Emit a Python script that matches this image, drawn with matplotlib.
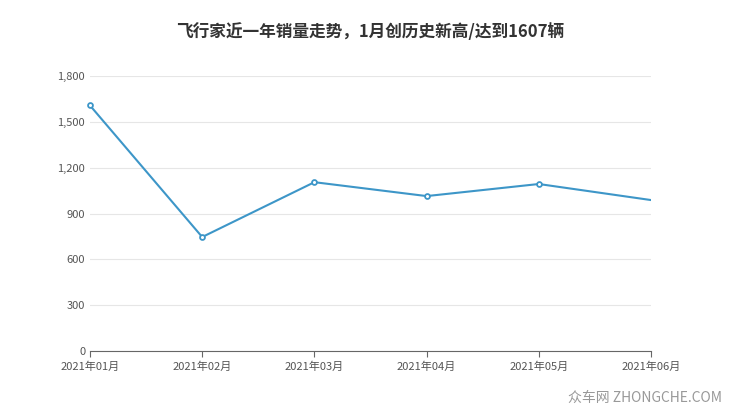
import matplotlib.pyplot as plt

plt.rcParams['font.family'] = ['Noto Sans CJK SC', 'DejaVu Sans']

months = ['2021年01月', '2021年02月', '2021年03月', '2021年04月', '2021年05月', '2021年06月']
sales = [1607, 746, 1105, 1014, 1093, 988]
yticks = [0, 300, 600, 900, 1200, 1500, 1800]

fig = plt.figure(figsize=(7.4, 4.17), dpi=100)
ax = fig.add_axes([90 / 740, 1 - 351 / 417, 561 / 740, 275 / 417])

x = list(range(len(months)))
ax.plot(x, sales, color='#3d96c8', lw=1.5)
ax.plot(x[:-1], sales[:-1], 'o', ms=3.5, mfc='white', mec='#3d96c8', mew=1.3, clip_on=False)

ax.set_xlim(0, len(months) - 1)
ax.set_ylim(0, 1800)
ax.set_yticks(yticks)
ax.set_yticklabels([f'{v:,}' for v in yticks])
ax.set_xticks(x)
ax.set_xticklabels(months)
ax.grid(axis='y', color='#e6e6e6', lw=0.8)
ax.set_axisbelow(True)
for s in ['top', 'right', 'left']:
    ax.spines[s].set_visible(False)
ax.spines['bottom'].set_color('#666666')
ax.tick_params(axis='y', length=0, labelsize=8, colors='#555555')
ax.tick_params(axis='x', length=4, labelsize=8, colors='#555555', color='#666666')

fig.text(0.5, 1 - 32 / 417, '飞行家近一年销量走势，1月创历史新高/达到1607辆',
         ha='center', va='center', fontsize=12, fontweight='bold', color='#333333')
fig.text(0.975, 1 - 398 / 417, '众车网 ZHONGCHE.COM', ha='right', va='center',
         fontsize=10, color='#999999')

fig.savefig('out.png', dpi=100)
